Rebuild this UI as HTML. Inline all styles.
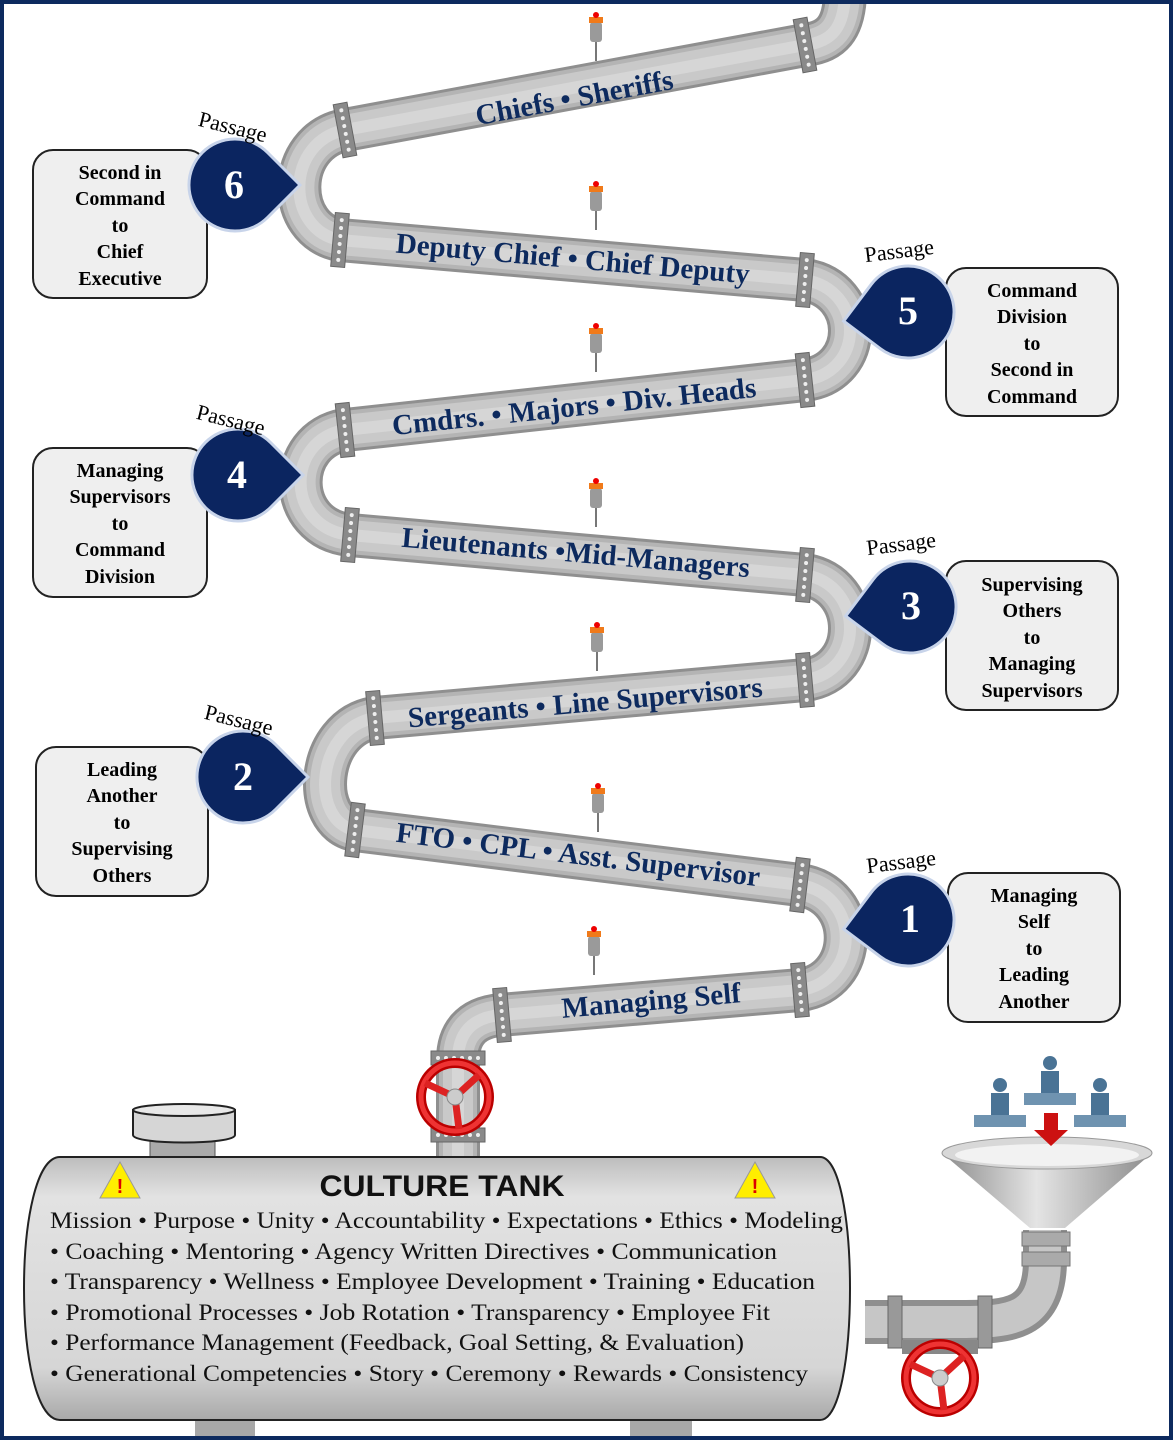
<!DOCTYPE html>
<html><head><meta charset="utf-8"><style>
html,body{margin:0;padding:0;background:#fff}
svg{display:block}
.pt{font-family:"Liberation Serif",serif;font-weight:bold;font-size:29px;fill:#0d2a5e}
.bx{font-family:"Liberation Serif",serif;font-weight:bold;font-size:20px;fill:#000}
.ps{font-family:"Liberation Serif",serif;font-size:22px;fill:#000}
.num{font-family:"Liberation Serif",serif;font-weight:bold;font-size:40px;fill:#fff}
.tk{font-family:"Liberation Serif",serif;font-size:23px;fill:#111}
</style></head><body>
<svg width="1173" height="1440" viewBox="0 0 1173 1440" xmlns="http://www.w3.org/2000/svg">
<defs>
<linearGradient id="tank" x1="0" y1="0" x2="0" y2="1">
<stop offset="0" stop-color="#bdbdbd"/><stop offset="0.15" stop-color="#e2e2e2"/><stop offset="0.8" stop-color="#d6d6d6"/><stop offset="1" stop-color="#a9a9a9"/></linearGradient>
<linearGradient id="fun" x1="0" y1="0" x2="1" y2="0">
<stop offset="0" stop-color="#8c8c8c"/><stop offset="0.45" stop-color="#e4e4e4"/><stop offset="1" stop-color="#8c8c8c"/></linearGradient>
<g id="flange"><rect x="-7" y="-27" width="14" height="54" fill="#8a8a8a" stroke="#666" stroke-width="1"/>
<circle cx="0" cy="-20" r="2" fill="#eee"/><circle cx="0" cy="-12" r="2" fill="#eee"/><circle cx="0" cy="-4" r="2" fill="#eee"/><circle cx="0" cy="4" r="2" fill="#eee"/><circle cx="0" cy="12" r="2" fill="#eee"/><circle cx="0" cy="20" r="2" fill="#eee"/></g>
<g id="gauge"><line x1="0" y1="22" x2="0" y2="44" stroke="#777" stroke-width="2"/><rect x="-6" y="5" width="12" height="20" rx="3" fill="#9a9a9a"/><rect x="-7" y="0" width="14" height="6" fill="#f07a1a"/><circle cx="0" cy="-2" r="3" fill="#e00"/></g>
<g id="dropL"><path d="M65,0 L32.5,-32.5 A46 46 0 1 0 32.5,32.5 Z" fill="#0b2560" stroke="#c8d4ea" stroke-width="3"/></g>
<g id="dropR"><path d="M-65,0 L-32.5,-32.5 A46 46 0 1 1 -32.5,32.5 Z" fill="#0b2560" stroke="#c8d4ea" stroke-width="3"/></g>
<g id="valve"><circle r="34" fill="none" stroke="#b00" stroke-width="10"/><circle r="34" fill="none" stroke="#e33" stroke-width="5"/>
<line x1="0" y1="0" x2="-30" y2="-14" stroke="#d22" stroke-width="7"/><line x1="0" y1="0" x2="24" y2="-22" stroke="#d22" stroke-width="7"/><line x1="0" y1="0" x2="4" y2="32" stroke="#d22" stroke-width="7"/><circle r="8" fill="#ccc" stroke="#888"/></g>
<g id="person"><circle cx="0" cy="-22" r="7" fill="#4a7395"/><path d="M-9,-14 h18 v22 h-18z" fill="#4a7395"/><path d="M-26,8 h52 v12 h-52z" fill="#6f93b0"/></g>
<path id="sp" d="M845,-10 C845,30 830,42 805,45 L345,130 C285,142 285,230 340,240 L805,280 C865,290 865,372 805,380 L345,430 C285,440 285,528 350,535 L805,575 C865,585 865,672 805,680 L375,718 C315,728 310,822 355,830 L800,885 C862,895 860,982 800,990 L500,1015 C470,1018 458,1035 458,1060 L458,1160" fill="none"/>
</defs>

<use href="#sp" stroke="#8f8f8f" stroke-width="44"/>
<use href="#sp" stroke="#b4b4b4" stroke-width="38"/>
<use href="#sp" stroke="#c9c9c9" stroke-width="30"/>
<use href="#sp" stroke="#d6d6d6" stroke-width="12"/>

<use href="#flange" transform="translate(805,45) rotate(-10.5)"/>
<use href="#flange" transform="translate(345,130) rotate(-10.5)"/>
<use href="#flange" transform="translate(340,240) rotate(5)"/>
<use href="#flange" transform="translate(805,280) rotate(5)"/>
<use href="#flange" transform="translate(805,380) rotate(-6)"/>
<use href="#flange" transform="translate(345,430) rotate(-6)"/>
<use href="#flange" transform="translate(350,535) rotate(5)"/>
<use href="#flange" transform="translate(805,575) rotate(5)"/>
<use href="#flange" transform="translate(805,680) rotate(-5)"/>
<use href="#flange" transform="translate(375,718) rotate(-5)"/>
<use href="#flange" transform="translate(355,830) rotate(7)"/>
<use href="#flange" transform="translate(800,885) rotate(7)"/>
<use href="#flange" transform="translate(800,990) rotate(-5)"/>
<use href="#flange" transform="translate(502,1015) rotate(-5)"/>
<use href="#flange" transform="translate(458,1058) rotate(90)"/>
<use href="#flange" transform="translate(458,1135) rotate(90)"/>

<use href="#gauge" transform="translate(596,17)"/>
<use href="#gauge" transform="translate(596,186)"/>
<use href="#gauge" transform="translate(596,328)"/>
<use href="#gauge" transform="translate(596,483)"/>
<use href="#gauge" transform="translate(597,627)"/>
<use href="#gauge" transform="translate(598,788)"/>
<use href="#gauge" transform="translate(594,931)"/>

<text class="pt" text-anchor="middle" transform="translate(576,107) rotate(-10.5)">Chiefs • Sheriffs</text>
<text class="pt" text-anchor="middle" transform="translate(572,268) rotate(5)">Deputy Chief • Chief Deputy</text>
<text class="pt" text-anchor="middle" transform="translate(575,416) rotate(-6)">Cmdrs. • Majors  • Div. Heads</text>
<text class="pt" text-anchor="middle" transform="translate(575,562) rotate(5)">Lieutenants •Mid-Managers</text>
<text class="pt" text-anchor="middle" transform="translate(586,712) rotate(-5)">Sergeants • Line Supervisors</text>
<text class="pt" text-anchor="middle" transform="translate(577,864) rotate(7)">FTO • CPL • Asst. Supervisor</text>
<text class="pt" text-anchor="middle" transform="translate(652,1010) rotate(-5)">Managing Self</text>

<g fill="#efefef" stroke="#222" stroke-width="2">
<rect x="33" y="150" width="174" height="148" rx="20"/>
<rect x="946" y="268" width="172" height="148" rx="20"/>
<rect x="33" y="448" width="174" height="149" rx="20"/>
<rect x="946" y="561" width="172" height="149" rx="20"/>
<rect x="36" y="747" width="172" height="149" rx="20"/>
<rect x="948" y="873" width="172" height="149" rx="20"/>
</g>
<g class="bx" text-anchor="middle">
<text x="120" y="179">Second in</text><text x="120" y="205">Command</text><text x="120" y="232">to</text><text x="120" y="258">Chief</text><text x="120" y="285">Executive</text>
<text x="1032" y="297">Command</text><text x="1032" y="323">Division</text><text x="1032" y="350">to</text><text x="1032" y="376">Second in</text><text x="1032" y="403">Command</text>
<text x="120" y="477">Managing</text><text x="120" y="503">Supervisors</text><text x="120" y="530">to</text><text x="120" y="556">Command</text><text x="120" y="583">Division</text>
<text x="1032" y="591">Supervising</text><text x="1032" y="617">Others</text><text x="1032" y="644">to</text><text x="1032" y="670">Managing</text><text x="1032" y="697">Supervisors</text>
<text x="122" y="776">Leading</text><text x="122" y="802">Another</text><text x="122" y="829">to</text><text x="122" y="855">Supervising</text><text x="122" y="882">Others</text>
<text x="1034" y="902">Managing</text><text x="1034" y="928">Self</text><text x="1034" y="955">to</text><text x="1034" y="981">Leading</text><text x="1034" y="1008">Another</text>
</g>

<use href="#dropL" transform="translate(235,185)"/>
<use href="#dropR" transform="translate(908,312) rotate(-8)"/>
<use href="#dropL" transform="translate(238,475)"/>
<use href="#dropR" transform="translate(910,607) rotate(-8)"/>
<use href="#dropL" transform="translate(243,777)"/>
<use href="#dropR" transform="translate(908,920) rotate(-8)"/>
<g class="num" text-anchor="middle">
<text x="234" y="198">6</text><text x="908" y="324">5</text><text x="237" y="488">4</text><text x="911" y="619">3</text><text x="243" y="790">2</text><text x="910" y="932">1</text>
</g>
<g class="ps" text-anchor="middle">
<text transform="translate(231,134) rotate(14)">Passage</text>
<text transform="translate(900,258) rotate(-7)">Passage</text>
<text transform="translate(229,427) rotate(14)">Passage</text>
<text transform="translate(902,551) rotate(-7)">Passage</text>
<text transform="translate(237,727) rotate(14)">Passage</text>
<text transform="translate(902,869) rotate(-7)">Passage</text>
</g>

<use href="#valve" transform="translate(455,1097)"/>

<path d="M1045,1230 L1045,1260 C1045,1320 1010,1322 960,1322 L865,1322" fill="none" stroke="#8f8f8f" stroke-width="44"/>
<path d="M1045,1230 L1045,1260 C1045,1320 1010,1322 960,1322 L865,1322" fill="none" stroke="#c6c6c6" stroke-width="32"/>
<rect x="1022" y="1232" width="48" height="14" fill="#aaa" stroke="#777"/>
<rect x="1022" y="1252" width="48" height="14" fill="#aaa" stroke="#777"/>
<rect x="888" y="1296" width="14" height="52" fill="#999" stroke="#666"/>
<rect x="978" y="1296" width="14" height="52" fill="#999" stroke="#666"/>
<rect x="902" y="1340" width="76" height="14" fill="#888"/>
<path d="M942,1153 L1152,1153 L1065,1228 L1030,1228 Z" fill="url(#fun)"/>
<ellipse cx="1047" cy="1153" rx="105" ry="16" fill="#d8d8d8" stroke="#999"/>
<ellipse cx="1047" cy="1155" rx="92" ry="11" fill="#f2f2f2"/>
<use href="#valve" transform="translate(940,1378)"/>

<use href="#person" transform="translate(1000,1107)"/>
<use href="#person" transform="translate(1050,1085)"/>
<use href="#person" transform="translate(1100,1107)"/>
<path d="M1044,1113 h14 v17 h10 l-17,16 l-17,-16 h10z" fill="#cc1111"/>

<rect x="150" y="1138" width="65" height="20" fill="#aaa" stroke="#555"/>
<path d="M133,1110 L133,1135 C133,1145 235,1145 235,1135 L235,1110 Z" fill="#d6d6d6" stroke="#222" stroke-width="2"/>
<ellipse cx="184" cy="1110" rx="51" ry="6" fill="#e8e8e8" stroke="#222" stroke-width="2"/>
<rect x="195" y="1410" width="60" height="30" fill="#a8a8a8"/>
<rect x="630" y="1410" width="62" height="30" fill="#a8a8a8"/>
<path d="M60,1157 L820,1157 C860,1157 860,1420 820,1420 L60,1420 C12,1420 12,1157 60,1157 Z" fill="url(#tank)" stroke="#222" stroke-width="2"/>
<path d="M100,1198 L120,1162 L140,1198 Z" fill="#ffee00" stroke="#999"/>
<text x="120" y="1193" text-anchor="middle" font-family="Liberation Sans,sans-serif" font-weight="bold" font-size="20" fill="#d00">!</text>
<path d="M735,1198 L755,1162 L775,1198 Z" fill="#ffee00" stroke="#999"/>
<text x="755" y="1193" text-anchor="middle" font-family="Liberation Sans,sans-serif" font-weight="bold" font-size="20" fill="#d00">!</text>
<text x="442" y="1196" text-anchor="middle" font-family="Liberation Sans Narrow,Liberation Sans,sans-serif" font-weight="bold" font-size="30" fill="#111" textLength="245" lengthAdjust="spacingAndGlyphs">CULTURE  TANK</text>
<g class="tk">
<text x="50" y="1228" textLength="793" lengthAdjust="spacingAndGlyphs">Mission • Purpose • Unity • Accountability • Expectations • Ethics • Modeling</text>
<text x="50" y="1259" textLength="727" lengthAdjust="spacingAndGlyphs">• Coaching • Mentoring • Agency Written Directives •  Communication</text>
<text x="50" y="1289" textLength="765" lengthAdjust="spacingAndGlyphs">• Transparency • Wellness • Employee Development • Training • Education</text>
<text x="50" y="1320" textLength="720" lengthAdjust="spacingAndGlyphs">• Promotional Processes • Job Rotation • Transparency •  Employee Fit</text>
<text x="50" y="1350" textLength="694" lengthAdjust="spacingAndGlyphs">• Performance Management (Feedback, Goal Setting, &amp; Evaluation)</text>
<text x="50" y="1381" textLength="758" lengthAdjust="spacingAndGlyphs">• Generational Competencies • Story • Ceremony • Rewards • Consistency</text>
</g>

<rect x="2" y="2" width="1169" height="1436" fill="none" stroke="#0d2a5e" stroke-width="4"/>
</svg>
</body></html>
